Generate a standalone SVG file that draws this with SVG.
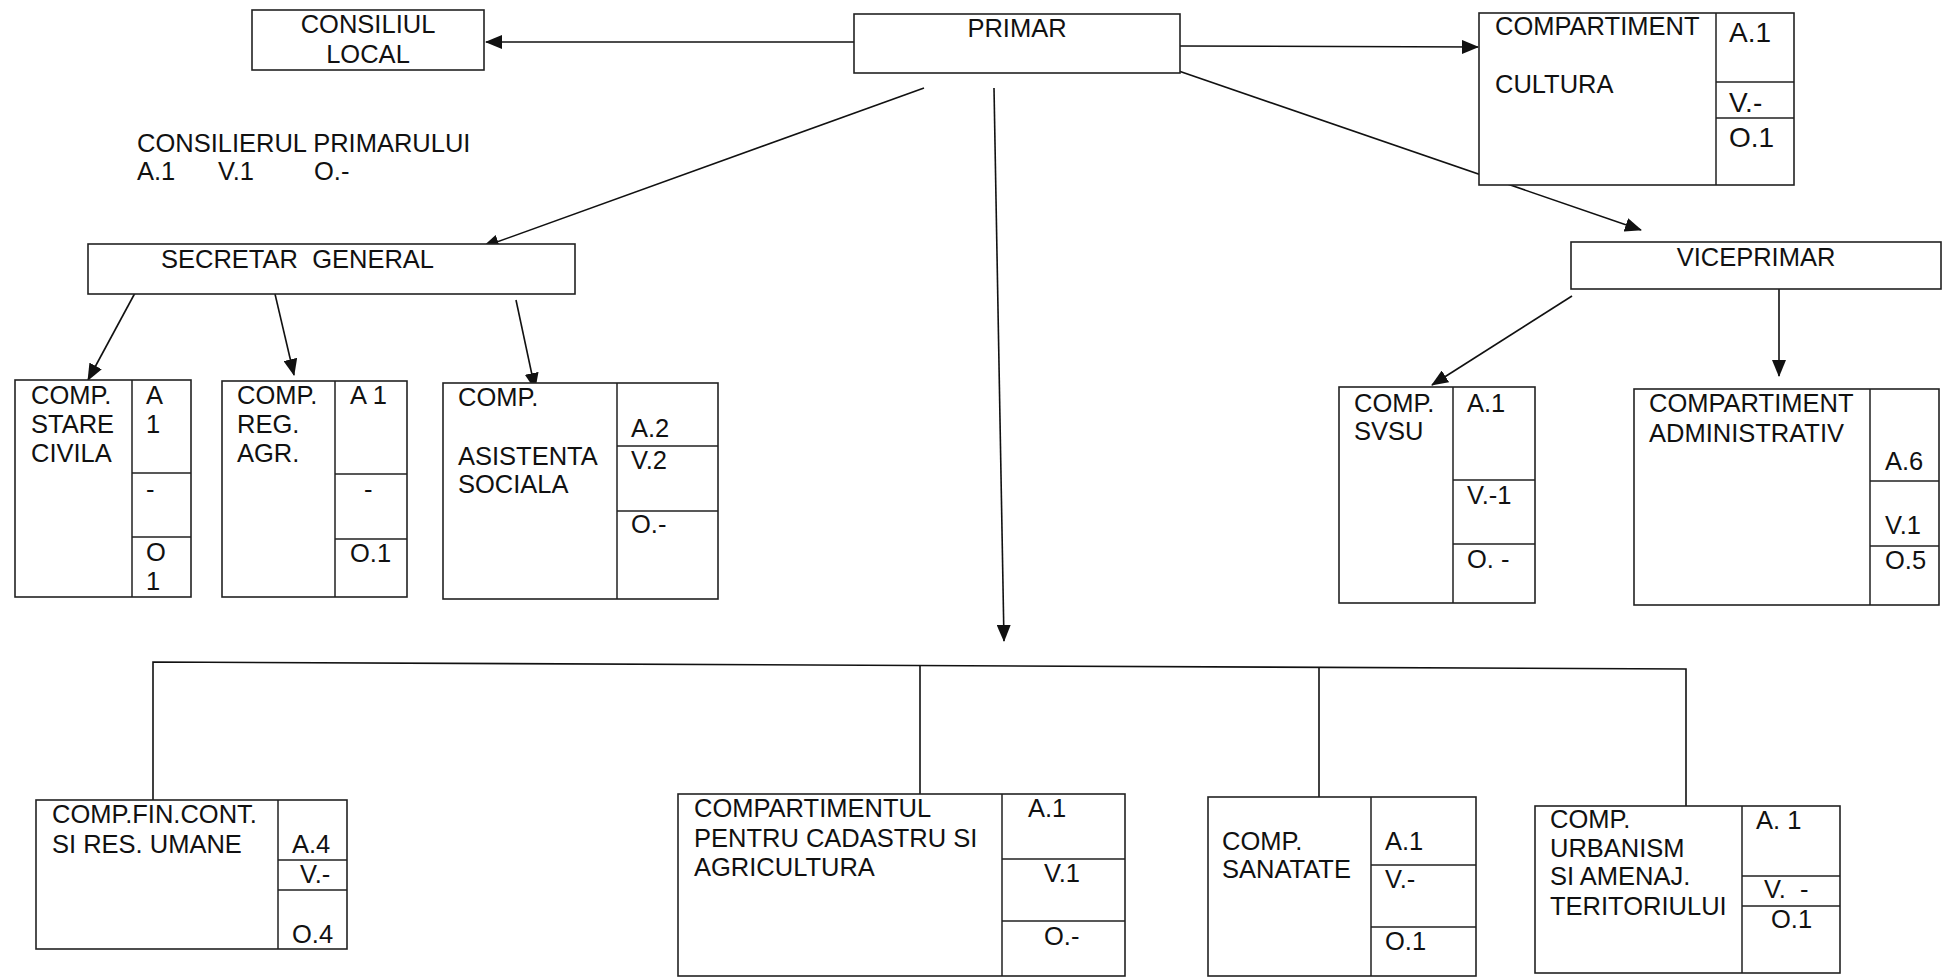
<svg xmlns="http://www.w3.org/2000/svg" width="1952" height="977" viewBox="0 0 1952 977">
<style>
  text { font-family: "Liberation Sans", Arial, sans-serif; font-size: 25.5px; fill: #111; }
  .big { font-size: 28px; }
  .box { fill: #fff; stroke: #222; stroke-width: 1.6; }
  .div { fill: none; stroke: #222; stroke-width: 1.5; }
  .con { fill: none; stroke: #111; stroke-width: 1.6; }
  .arr { marker-end: url(#ah); }
  .c { text-anchor: middle; }
</style>
<defs>
  <marker id="ah" markerUnits="userSpaceOnUse" markerWidth="18" markerHeight="14" refX="16" refY="7" orient="auto">
    <path d="M0,0 L17,7 L0,14 z" fill="#111"/>
  </marker>
</defs>
<rect width="1952" height="977" fill="#fff"/>

<g id="connectors">
  <line class="con arr" x1="854" y1="42" x2="486" y2="42"/>
  <line class="con arr" x1="1180" y1="46" x2="1478" y2="47"/>
  <line class="con arr" x1="924" y1="88" x2="483" y2="247"/>
  <line class="con arr" x1="1170" y1="68" x2="1641" y2="230"/>
  <line class="con arr" x1="994" y1="88" x2="1004" y2="641"/>
  <line class="con arr" x1="135" y1="293" x2="88" y2="380"/>
  <line class="con arr" x1="275" y1="294" x2="294" y2="375"/>
  <line class="con arr" x1="516" y1="300" x2="535" y2="389"/>
  <line class="con arr" x1="1572" y1="296" x2="1432" y2="385"/>
  <line class="con arr" x1="1779" y1="289" x2="1779" y2="376"/>
  <polyline class="con" points="153,800 153,662 1686,669 1686,806"/>
  <line class="con" x1="920" y1="666" x2="920" y2="794"/>
  <line class="con" x1="1319" y1="668" x2="1319" y2="797"/>
</g>

<g id="consiliul-local">
  <rect class="box" x="252" y="10" width="232" height="60"/>
  <text class="c" x="368" y="33">CONSILIUL</text>
  <text class="c" x="368" y="63">LOCAL</text>
</g>

<g id="primar">
  <rect class="box" x="854" y="14" width="326" height="59"/>
  <text class="c" x="1017" y="37">PRIMAR</text>
</g>

<g id="compartiment-cultura">
  <rect class="box" x="1479" y="13" width="315" height="172"/>
  <path class="div" d="M1716,13 V185 M1716,82 H1794 M1716,118 H1794"/>
  <text x="1495" y="35">COMPARTIMENT</text>
  <text x="1495" y="93">CULTURA</text>
  <text class="big" x="1729" y="42">A.1</text>
  <text class="big" x="1729" y="112">V.-</text>
  <text class="big" x="1729" y="147">O.1</text>
</g>

<g id="consilierul-primarului">
  <text x="137" y="152">CONSILIERUL PRIMARULUI</text>
  <text x="137" y="180">A.1</text>
  <text x="218" y="180">V.1</text>
  <text x="314" y="180">O.-</text>
</g>

<g id="secretar-general">
  <rect class="box" x="88" y="244" width="487" height="50"/>
  <text x="161" y="268" xml:space="preserve">SECRETAR  GENERAL</text>
</g>

<g id="viceprimar">
  <rect class="box" x="1571" y="242" width="370" height="47"/>
  <text class="c" x="1756" y="266">VICEPRIMAR</text>
</g>

<g id="comp-stare-civila">
  <rect class="box" x="15" y="380" width="176" height="217"/>
  <path class="div" d="M132,380 V597 M132,473 H191 M132,537 H191"/>
  <text x="31" y="404">COMP.</text>
  <text x="31" y="433">STARE</text>
  <text x="31" y="462">CIVILA</text>
  <text x="146" y="404">A</text>
  <text x="146" y="433">1</text>
  <text x="146" y="498">-</text>
  <text x="146" y="561">O</text>
  <text x="146" y="590">1</text>
</g>

<g id="comp-reg-agr">
  <rect class="box" x="222" y="381" width="185" height="216"/>
  <path class="div" d="M335,381 V597 M335,474 H407 M335,539 H407"/>
  <text x="237" y="404">COMP.</text>
  <text x="237" y="433">REG.</text>
  <text x="237" y="462">AGR.</text>
  <text x="350" y="404">A 1</text>
  <text x="364" y="498">-</text>
  <text x="350" y="562">O.1</text>
</g>

<g id="comp-asistenta-sociala">
  <rect class="box" x="443" y="383" width="275" height="216"/>
  <path class="div" d="M617,383 V599 M617,446 H718 M617,511 H718"/>
  <text x="458" y="406">COMP.</text>
  <text x="458" y="465">ASISTENTA</text>
  <text x="458" y="493">SOCIALA</text>
  <text x="631" y="437">A.2</text>
  <text x="631" y="469">V.2</text>
  <text x="631" y="533">O.-</text>
</g>

<g id="comp-svsu">
  <rect class="box" x="1339" y="387" width="196" height="216"/>
  <path class="div" d="M1453,387 V603 M1453,480 H1535 M1453,544 H1535"/>
  <text x="1354" y="412">COMP.</text>
  <text x="1354" y="440">SVSU</text>
  <text x="1467" y="412">A.1</text>
  <text x="1467" y="504">V.-1</text>
  <text x="1467" y="568">O. -</text>
</g>

<g id="compartiment-administrativ">
  <rect class="box" x="1634" y="389" width="305" height="216"/>
  <path class="div" d="M1870,389 V605 M1870,481 H1939 M1870,546 H1939"/>
  <text x="1649" y="412">COMPARTIMENT</text>
  <text x="1649" y="442">ADMINISTRATIV</text>
  <text x="1885" y="470">A.6</text>
  <text x="1885" y="534">V.1</text>
  <text x="1885" y="569">O.5</text>
</g>

<g id="comp-fin-cont">
  <rect class="box" x="36" y="800" width="311" height="149"/>
  <path class="div" d="M278,800 V949 M278,860 H347 M278,890 H347"/>
  <text x="52" y="823">COMP.FIN.CONT.</text>
  <text x="52" y="853">SI RES. UMANE</text>
  <text x="292" y="853">A.4</text>
  <text x="300" y="883">V.-</text>
  <text x="292" y="943">O.4</text>
</g>

<g id="compartimentul-cadastru">
  <rect class="box" x="678" y="794" width="447" height="182"/>
  <path class="div" d="M1002,794 V976 M1002,859 H1125 M1002,921 H1125"/>
  <text x="694" y="817">COMPARTIMENTUL</text>
  <text x="694" y="847">PENTRU CADASTRU SI</text>
  <text x="694" y="876">AGRICULTURA</text>
  <text x="1028" y="817">A.1</text>
  <text x="1044" y="882">V.1</text>
  <text x="1044" y="945">O.-</text>
</g>

<g id="comp-sanatate">
  <rect class="box" x="1208" y="797" width="268" height="179"/>
  <path class="div" d="M1371,797 V976 M1371,865 H1476 M1371,927 H1476"/>
  <text x="1222" y="850">COMP.</text>
  <text x="1222" y="878">SANATATE</text>
  <text x="1385" y="850">A.1</text>
  <text x="1385" y="888">V.-</text>
  <text x="1385" y="950">O.1</text>
</g>

<g id="comp-urbanism">
  <rect class="box" x="1535" y="806" width="305" height="167"/>
  <path class="div" d="M1742,806 V973 M1742,876 H1840 M1742,906 H1840"/>
  <text x="1550" y="828">COMP.</text>
  <text x="1550" y="857">URBANISM</text>
  <text x="1550" y="885">SI AMENAJ.</text>
  <text x="1550" y="915">TERITORIULUI</text>
  <text x="1756" y="829">A. 1</text>
  <text x="1764" y="898" xml:space="preserve">V.  -</text>
  <text x="1771" y="928">O.1</text>
</g>
</svg>
